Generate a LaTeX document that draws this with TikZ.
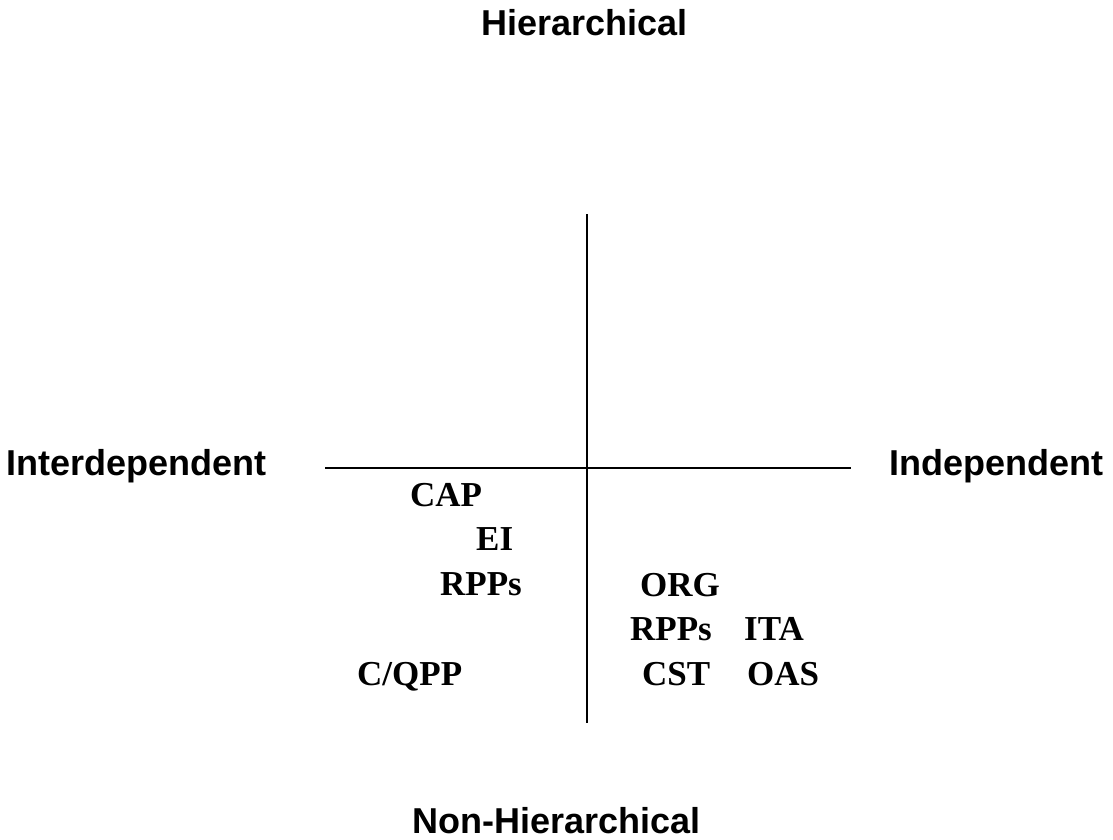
\documentclass[tikz,border=0pt]{standalone}
\usepackage{fontspec}
\setmainfont{Liberation Serif}
\newfontfamily\axisfont{Liberation Sans}
\begin{document}
\begin{tikzpicture}[x=1pt,y=-1pt,
  axislabel/.style={font=\axisfont\bfseries\fontsize{36}{40}\selectfont, inner sep=0pt},
  item/.style={font=\bfseries\fontsize{35}{40}\selectfont, inner sep=0pt, anchor=base west},
  axisline/.style={line width=2.5pt}]
\useasboundingbox[fill=white] (0,0) rectangle (1113,839);
% axes
\coordinate (vtop) at (587,214);
\coordinate (vbot) at (587,723);
\coordinate (hl) at (325,468);
\coordinate (hr) at (851,468);
\draw[axisline] (vtop) -- (vbot);
\draw[axisline] (hl) -- (hr);
% axis labels
\node[axislabel, anchor=base west] (hier) at (481,35) {Hierarchical};
\node[axislabel, anchor=base east] (nonhier) at (701,833) {Non-Hierarchical};
\node[axislabel, anchor=base west] (interdep) at (6,475) {Interdependent};
\node[axislabel, anchor=base west] (indep) at (889,475) {Independent};
% left quadrant
\node[item] (cap) at (410,506) {CAP};
\node[item] (ei) at (476,550) {EI};
\node[item] (rppsl) at (440,595) {RPPs};
\node[item] (cqpp) at (357,685) {C/QPP};
% right quadrant
\node[item] (org) at (640,596) {ORG};
\node[item] (rppsr) at (630,640) {RPPs};
\node[item] (ita) at (744,640) {ITA};
\node[item] (cst) at (642,685) {CST};
\node[item] (oas) at (747,685) {OAS};
\end{tikzpicture}
\end{document}
